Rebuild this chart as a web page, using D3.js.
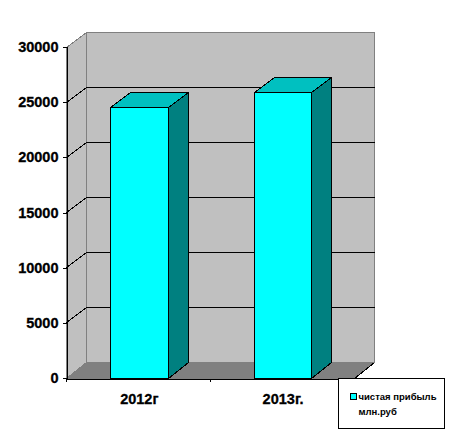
<!DOCTYPE html>
<html>
<head>
<meta charset="utf-8">
<script src="https://cdn.jsdelivr.net/npm/d3@7"></script>
<style>
  html, body { margin: 0; background: #fff; }
  svg { display: block; shape-rendering: crispEdges; }
  text { font-family: "Liberation Sans", Arial, sans-serif; font-weight: bold; fill: #000; }
</style>
</head>
<body>
<svg id="chart" width="450" height="444"></svg>
<script>
const years = ["2012г", "2013г."];
const profit = [24550, 25920];
const yTicks = [0, 5000, 10000, 15000, 20000, 25000, 30000];
const legendLines = ["чистая прибыль", "млн.руб"];

const depthX = 20;
const depthY = -15;
const floorDepthY = -16;
const svg = d3.select("#chart");

const x = d3.scaleBand().domain(years).range([66.5, 354]).paddingInner(0).paddingOuter(0);
const y = d3.scaleLinear().domain([0, 30000]).range([378, 47]);

const px = v => Math.floor(v) + 0.5;
const x0 = x.range()[0];
const x1 = px(x.range()[1]);
const yBase = px(y(0));
const yTop = px(y(30000));
const poly = pts => pts.map(p => p.join(",")).join(" ");

// walls and floor
svg.append("polygon")
  .attr("points", poly([[x0 + depthX, yTop + depthY], [x1 + depthX, yTop + depthY], [x1 + depthX, yBase + floorDepthY], [x0 + depthX, yBase + floorDepthY]]))
  .attr("fill", "#c0c0c0").attr("stroke", "#808080");
svg.append("polygon")
  .attr("points", poly([[x0, yTop], [x0 + depthX, yTop + depthY], [x0 + depthX, yBase + floorDepthY], [x0, yBase]]))
  .attr("fill", "#c0c0c0").attr("stroke", "#808080");
svg.append("polygon")
  .attr("points", poly([[x0, yBase], [x0 + depthX, yBase + floorDepthY], [x1 + depthX, yBase + floorDepthY], [x1, yBase]]))
  .attr("fill", "#808080").attr("stroke", "#808080");
svg.append("line")
  .attr("x1", x1).attr("y1", yBase).attr("x2", x1 + depthX).attr("y2", yBase + floorDepthY)
  .attr("stroke", "#000");

// gridlines, back wall and left wall
const grid = svg.append("g").attr("stroke", "#000").attr("fill", "none");
yTicks.filter(d => d > 0 && d < 30000).forEach(d => {
  const gy = px(y(d));
  grid.append("path").attr("d", `M${x0},${gy}L${x0 + depthX},${gy + depthY}L${x1 + depthX},${gy + depthY}`);
});

// bars
const barW = x.bandwidth() * 0.4;
const barOff = x.bandwidth() * 0.3065;
const bars = svg.append("g").attr("stroke", "#000").attr("stroke-width", 1).attr("stroke-linejoin", "miter");
years.forEach((yr, i) => {
  const bl = px(x(yr) + barOff);
  const br = px(x(yr) + barOff + barW);
  const bt = px(y(profit[i]));
  bars.append("polygon")
    .attr("points", poly([[br, bt], [br + depthX, bt + depthY], [br + depthX, yBase + floorDepthY], [br, yBase]]))
    .attr("fill", "#008080");
  bars.append("polygon")
    .attr("points", poly([[bl, bt], [bl + depthX, bt + depthY], [br + depthX, bt + depthY], [br, bt]]))
    .attr("fill", "#00c0c0");
  bars.append("rect")
    .attr("x", bl).attr("y", bt).attr("width", br - bl).attr("height", yBase - bt)
    .attr("fill", "#00ffff");
});

// axes
const yAxis = svg.append("g").attr("transform", `translate(${x0},0)`)
  .call(d3.axisLeft(y).tickValues(yTicks).tickSize(4).tickPadding(4).tickFormat(d3.format("d")));
const xAxis = svg.append("g").attr("transform", `translate(0,${yBase})`)
  .call(d3.axisBottom(x).tickValues(years).tickSize(0).tickPadding(15));
yAxis.select(".domain").attr("stroke", "#000");
xAxis.select(".domain").attr("stroke", "#000");
yAxis.selectAll("text").style("font-size", "14.5px").attr("stroke", "#000").attr("stroke-width", 0.3);
xAxis.selectAll("text").style("font-size", "14.5px").attr("stroke", "#000").attr("stroke-width", 0.3)
  .attr("dy", "0.71em");
xAxis.selectAll(".tick").attr("transform", d => `translate(${x(d) + barOff + barW / 2},0)`);

// tick marks at the band edges
svg.append("g").attr("stroke", "#000")
  .selectAll("line").data([x0, x(years[1]), x1]).join("line")
  .attr("x1", d => d).attr("x2", d => d)
  .attr("y1", yBase).attr("y2", yBase + 3);

// legend
const legend = svg.append("g").attr("transform", "translate(338.5,378.5)");
legend.append("rect").attr("width", 106).attr("height", 50).attr("fill", "#fff").attr("stroke", "#000");
legend.append("rect").attr("x", 12).attr("y", 15).attr("width", 6).attr("height", 6)
  .attr("fill", "#00ffff").attr("stroke", "#000");
legend.selectAll("text.label").data(legendLines).join("text")
  .attr("class", "label")
  .attr("x", 20)
  .attr("y", (d, i) => 21 + i * 15)
  .attr("font-size", 9.5)
  .text(d => d);
</script>
</body>
</html>
